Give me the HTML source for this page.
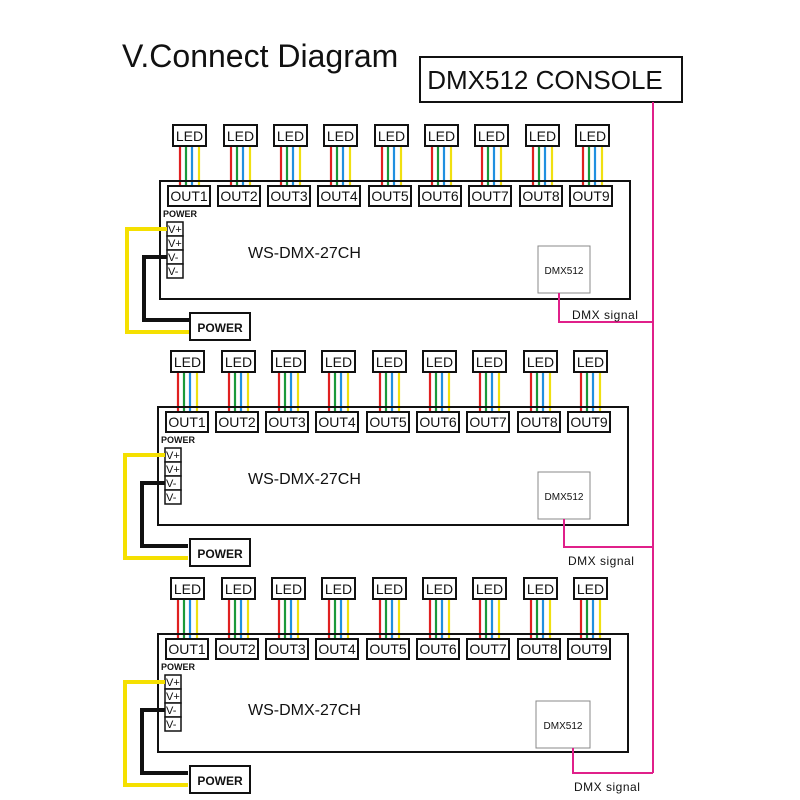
<!DOCTYPE html>
<html><head><meta charset="utf-8"><style>
html,body{margin:0;padding:0;background:#fff}
svg{display:block}
text{font-family:"Liberation Sans",sans-serif}
</style></head><body>
<svg width="800" height="800" viewBox="0 0 800 800" xmlns="http://www.w3.org/2000/svg">
<text x="122" y="67" font-size="32" fill="#111">V.Connect Diagram</text>
<rect x="420" y="57" width="262" height="45" fill="#fff" stroke="#111" stroke-width="2"/>
<text x="545" y="89" font-size="26" text-anchor="middle" fill="#111">DMX512 CONSOLE</text>
<line x1="653" y1="102" x2="653" y2="773" stroke="#e0208a" stroke-width="2"/>

<!-- Block 1 -->
<g id="b1">
<g stroke-width="2.2" fill="none">
<path d="M180 146V187M231 146V187M281 146V187M331 146V187M382 146V187M432 146V187M482 146V187M533 146V187M583 146V187" stroke="#e02020"/>
<path d="M186 146V187M237 146V187M287 146V187M337 146V187M388 146V187M438 146V187M488 146V187M539 146V187M589 146V187" stroke="#1a9a3a"/>
<path d="M192 146V187M243 146V187M293 146V187M343 146V187M394 146V187M444 146V187M494 146V187M545 146V187M595 146V187" stroke="#2090e0"/>
<path d="M199 146V187M250 146V187M300 146V187M350 146V187M401 146V187M451 146V187M501 146V187M552 146V187M602 146V187" stroke="#f0e010"/>
</g>
<g fill="#fff" stroke="#111" stroke-width="2">
<rect x="173" y="125" width="33" height="21"/><rect x="224" y="125" width="33" height="21"/><rect x="274" y="125" width="33" height="21"/><rect x="324" y="125" width="33" height="21"/><rect x="375" y="125" width="33" height="21"/><rect x="425" y="125" width="33" height="21"/><rect x="475" y="125" width="33" height="21"/><rect x="526" y="125" width="33" height="21"/><rect x="576" y="125" width="33" height="21"/>
</g>
<g font-size="14" text-anchor="middle" fill="#111">
<text x="189.5" y="141">LED</text><text x="240.5" y="141">LED</text><text x="290.5" y="141">LED</text><text x="340.5" y="141">LED</text><text x="391.5" y="141">LED</text><text x="441.5" y="141">LED</text><text x="491.5" y="141">LED</text><text x="542.5" y="141">LED</text><text x="592.5" y="141">LED</text>
</g>
<rect x="160" y="181" width="470" height="118" fill="none" stroke="#111" stroke-width="2"/>
<g fill="#fff" stroke="#111" stroke-width="2">
<rect x="168" y="186" width="42" height="20"/><rect x="218" y="186" width="42" height="20"/><rect x="268" y="186" width="42" height="20"/><rect x="318" y="186" width="42" height="20"/><rect x="369" y="186" width="42" height="20"/><rect x="419" y="186" width="42" height="20"/><rect x="469" y="186" width="42" height="20"/><rect x="520" y="186" width="42" height="20"/><rect x="570" y="186" width="42" height="20"/>
</g>
<g font-size="14" text-anchor="middle" fill="#111">
<text x="189" y="201">OUT1</text><text x="239" y="201">OUT2</text><text x="289" y="201">OUT3</text><text x="339" y="201">OUT4</text><text x="390" y="201">OUT5</text><text x="440" y="201">OUT6</text><text x="490" y="201">OUT7</text><text x="541" y="201">OUT8</text><text x="591" y="201">OUT9</text>
</g>
<text x="163" y="217" font-size="9" font-weight="bold" fill="#111">POWER</text>
<g fill="#fff" stroke="#111" stroke-width="1.5">
<rect x="167" y="222" width="16" height="14"/><rect x="167" y="236" width="16" height="14"/><rect x="167" y="250" width="16" height="14"/><rect x="167" y="264" width="16" height="14"/>
</g>
<g font-size="11" fill="#111"><text x="168" y="233">V+</text><text x="168" y="247">V+</text><text x="168" y="261">V-</text><text x="168" y="275">V-</text></g>
<path d="M167 229H127V332H190" fill="none" stroke="#f5e000" stroke-width="4"/>
<path d="M167 257H144V320H190" fill="none" stroke="#111" stroke-width="4"/>
<rect x="190" y="313" width="60" height="27" fill="#fff" stroke="#111" stroke-width="2"/>
<text x="220" y="332" font-size="12" font-weight="bold" text-anchor="middle" fill="#111">POWER</text>
<text x="248" y="258" font-size="16" fill="#111">WS-DMX-27CH</text>
<rect x="538" y="246" width="52" height="47" fill="#fff" stroke="#888" stroke-width="1"/>
<text x="564" y="274" font-size="10" text-anchor="middle" fill="#111">DMX512</text>
</g>
<path d="M559 293V322H653" fill="none" stroke="#e0208a" stroke-width="2"/>
<text x="572" y="319" font-size="12" fill="#111" letter-spacing="0.5">DMX  signal</text>

<!-- Block 2 -->
<g transform="translate(-2,226)">
<g stroke-width="2.2" fill="none">
<path d="M180 146V187M231 146V187M281 146V187M331 146V187M382 146V187M432 146V187M482 146V187M533 146V187M583 146V187" stroke="#e02020"/>
<path d="M186 146V187M237 146V187M287 146V187M337 146V187M388 146V187M438 146V187M488 146V187M539 146V187M589 146V187" stroke="#1a9a3a"/>
<path d="M192 146V187M243 146V187M293 146V187M343 146V187M394 146V187M444 146V187M494 146V187M545 146V187M595 146V187" stroke="#2090e0"/>
<path d="M199 146V187M250 146V187M300 146V187M350 146V187M401 146V187M451 146V187M501 146V187M552 146V187M602 146V187" stroke="#f0e010"/>
</g>
<g fill="#fff" stroke="#111" stroke-width="2">
<rect x="173" y="125" width="33" height="21"/><rect x="224" y="125" width="33" height="21"/><rect x="274" y="125" width="33" height="21"/><rect x="324" y="125" width="33" height="21"/><rect x="375" y="125" width="33" height="21"/><rect x="425" y="125" width="33" height="21"/><rect x="475" y="125" width="33" height="21"/><rect x="526" y="125" width="33" height="21"/><rect x="576" y="125" width="33" height="21"/>
</g>
<g font-size="14" text-anchor="middle" fill="#111">
<text x="189.5" y="141">LED</text><text x="240.5" y="141">LED</text><text x="290.5" y="141">LED</text><text x="340.5" y="141">LED</text><text x="391.5" y="141">LED</text><text x="441.5" y="141">LED</text><text x="491.5" y="141">LED</text><text x="542.5" y="141">LED</text><text x="592.5" y="141">LED</text>
</g>
<rect x="160" y="181" width="470" height="118" fill="none" stroke="#111" stroke-width="2"/>
<g fill="#fff" stroke="#111" stroke-width="2">
<rect x="168" y="186" width="42" height="20"/><rect x="218" y="186" width="42" height="20"/><rect x="268" y="186" width="42" height="20"/><rect x="318" y="186" width="42" height="20"/><rect x="369" y="186" width="42" height="20"/><rect x="419" y="186" width="42" height="20"/><rect x="469" y="186" width="42" height="20"/><rect x="520" y="186" width="42" height="20"/><rect x="570" y="186" width="42" height="20"/>
</g>
<g font-size="14" text-anchor="middle" fill="#111">
<text x="189" y="201">OUT1</text><text x="239" y="201">OUT2</text><text x="289" y="201">OUT3</text><text x="339" y="201">OUT4</text><text x="390" y="201">OUT5</text><text x="440" y="201">OUT6</text><text x="490" y="201">OUT7</text><text x="541" y="201">OUT8</text><text x="591" y="201">OUT9</text>
</g>
<text x="163" y="217" font-size="9" font-weight="bold" fill="#111">POWER</text>
<g fill="#fff" stroke="#111" stroke-width="1.5">
<rect x="167" y="222" width="16" height="14"/><rect x="167" y="236" width="16" height="14"/><rect x="167" y="250" width="16" height="14"/><rect x="167" y="264" width="16" height="14"/>
</g>
<g font-size="11" fill="#111"><text x="168" y="233">V+</text><text x="168" y="247">V+</text><text x="168" y="261">V-</text><text x="168" y="275">V-</text></g>
<path d="M167 229H127V332H190" fill="none" stroke="#f5e000" stroke-width="4"/>
<path d="M167 257H144V320H190" fill="none" stroke="#111" stroke-width="4"/>
<rect x="192" y="313" width="60" height="27" fill="#fff" stroke="#111" stroke-width="2"/>
<text x="222" y="332" font-size="12" font-weight="bold" text-anchor="middle" fill="#111">POWER</text>
<text x="250" y="258" font-size="16" fill="#111">WS-DMX-27CH</text>
<rect x="540" y="246" width="52" height="47" fill="#fff" stroke="#888" stroke-width="1"/>
<text x="566" y="274" font-size="10" text-anchor="middle" fill="#111">DMX512</text>
</g>
<path d="M564 519V547H653" fill="none" stroke="#e0208a" stroke-width="2"/>
<text x="568" y="565" font-size="12" fill="#111" letter-spacing="0.5">DMX  signal</text>

<!-- Block 3 -->
<g transform="translate(-2,453)">
<g stroke-width="2.2" fill="none">
<path d="M180 146V187M231 146V187M281 146V187M331 146V187M382 146V187M432 146V187M482 146V187M533 146V187M583 146V187" stroke="#e02020"/>
<path d="M186 146V187M237 146V187M287 146V187M337 146V187M388 146V187M438 146V187M488 146V187M539 146V187M589 146V187" stroke="#1a9a3a"/>
<path d="M192 146V187M243 146V187M293 146V187M343 146V187M394 146V187M444 146V187M494 146V187M545 146V187M595 146V187" stroke="#2090e0"/>
<path d="M199 146V187M250 146V187M300 146V187M350 146V187M401 146V187M451 146V187M501 146V187M552 146V187M602 146V187" stroke="#f0e010"/>
</g>
<g fill="#fff" stroke="#111" stroke-width="2">
<rect x="173" y="125" width="33" height="21"/><rect x="224" y="125" width="33" height="21"/><rect x="274" y="125" width="33" height="21"/><rect x="324" y="125" width="33" height="21"/><rect x="375" y="125" width="33" height="21"/><rect x="425" y="125" width="33" height="21"/><rect x="475" y="125" width="33" height="21"/><rect x="526" y="125" width="33" height="21"/><rect x="576" y="125" width="33" height="21"/>
</g>
<g font-size="14" text-anchor="middle" fill="#111">
<text x="189.5" y="141">LED</text><text x="240.5" y="141">LED</text><text x="290.5" y="141">LED</text><text x="340.5" y="141">LED</text><text x="391.5" y="141">LED</text><text x="441.5" y="141">LED</text><text x="491.5" y="141">LED</text><text x="542.5" y="141">LED</text><text x="592.5" y="141">LED</text>
</g>
<rect x="160" y="181" width="470" height="118" fill="none" stroke="#111" stroke-width="2"/>
<g fill="#fff" stroke="#111" stroke-width="2">
<rect x="168" y="186" width="42" height="20"/><rect x="218" y="186" width="42" height="20"/><rect x="268" y="186" width="42" height="20"/><rect x="318" y="186" width="42" height="20"/><rect x="369" y="186" width="42" height="20"/><rect x="419" y="186" width="42" height="20"/><rect x="469" y="186" width="42" height="20"/><rect x="520" y="186" width="42" height="20"/><rect x="570" y="186" width="42" height="20"/>
</g>
<g font-size="14" text-anchor="middle" fill="#111">
<text x="189" y="201">OUT1</text><text x="239" y="201">OUT2</text><text x="289" y="201">OUT3</text><text x="339" y="201">OUT4</text><text x="390" y="201">OUT5</text><text x="440" y="201">OUT6</text><text x="490" y="201">OUT7</text><text x="541" y="201">OUT8</text><text x="591" y="201">OUT9</text>
</g>
<text x="163" y="217" font-size="9" font-weight="bold" fill="#111">POWER</text>
<g fill="#fff" stroke="#111" stroke-width="1.5">
<rect x="167" y="222" width="16" height="14"/><rect x="167" y="236" width="16" height="14"/><rect x="167" y="250" width="16" height="14"/><rect x="167" y="264" width="16" height="14"/>
</g>
<g font-size="11" fill="#111"><text x="168" y="233">V+</text><text x="168" y="247">V+</text><text x="168" y="261">V-</text><text x="168" y="275">V-</text></g>
<path d="M167 229H127V332H190" fill="none" stroke="#f5e000" stroke-width="4"/>
<path d="M167 257H144V320H190" fill="none" stroke="#111" stroke-width="4"/>
<rect x="192" y="313" width="60" height="27" fill="#fff" stroke="#111" stroke-width="2"/>
<text x="222" y="332" font-size="12" font-weight="bold" text-anchor="middle" fill="#111">POWER</text>
<text x="250" y="262" font-size="16" fill="#111">WS-DMX-27CH</text>
<rect x="538" y="248" width="54" height="47" fill="#fff" stroke="#888" stroke-width="1"/>
<text x="565" y="276" font-size="10" text-anchor="middle" fill="#111">DMX512</text>
</g>
<path d="M573 748V773H653" fill="none" stroke="#e0208a" stroke-width="2"/>
<text x="574" y="791" font-size="12" fill="#111" letter-spacing="0.5">DMX  signal</text>
</svg>
</body></html>
